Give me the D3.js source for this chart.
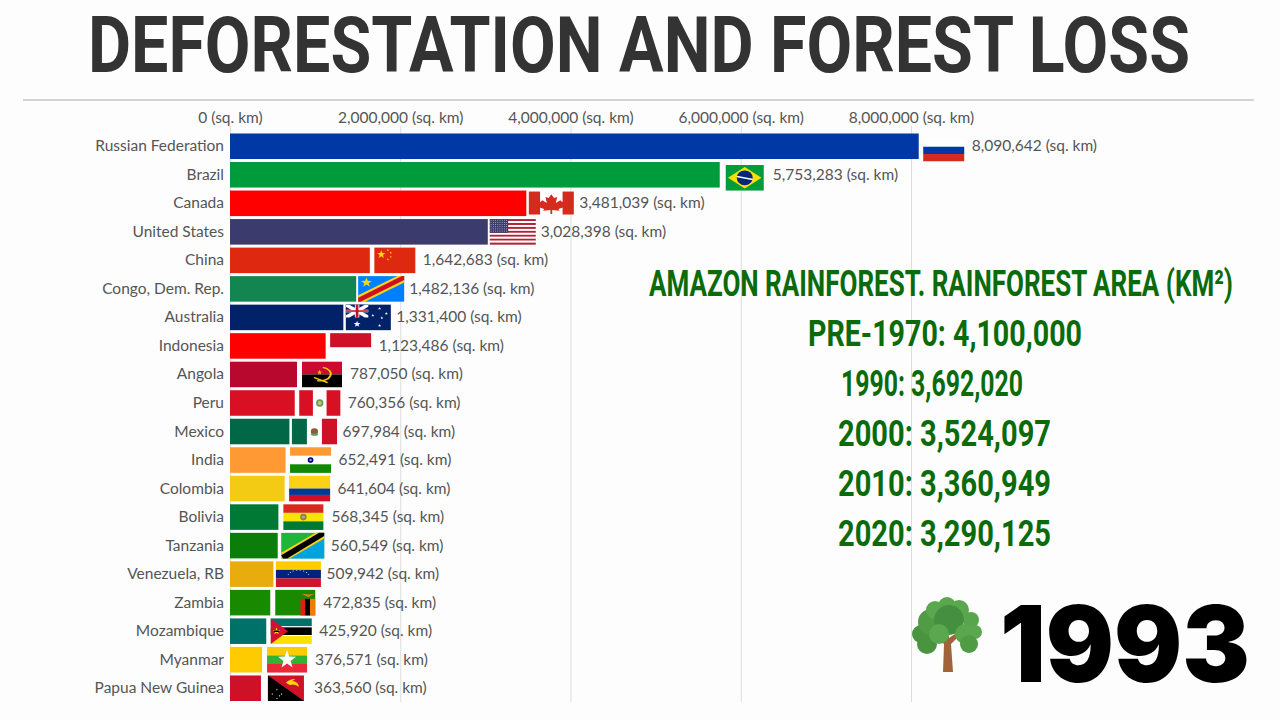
<!DOCTYPE html>
<html><head><meta charset="utf-8">
<script src="https://cdn.jsdelivr.net/npm/d3@7"></script>
<style>html,body{margin:0;padding:0;background:#fdfdfd;overflow:hidden}svg{display:block}
.lbl{font-family:"Lato",sans-serif;font-size:15.5px;fill:#555}
</style></head><body><svg id="c" width="1280" height="720"></svg>
<script>
const countries=["Russian Federation","Brazil","Canada","United States","China","Congo, Dem. Rep.","Australia","Indonesia","Angola","Peru","Mexico","India","Colombia","Bolivia","Tanzania","Venezuela, RB","Zambia","Mozambique","Myanmar","Papua New Guinea"];
const areas=[8090642,5753283,3481039,3028398,1642683,1482136,1331400,1123486,787050,760356,697984,652491,641604,568345,560549,509942,472835,425920,376571,363560];
const barColors=["#0039a6","#009b3a","#ff0000","#3c3b6e","#de2910","#138550","#012169","#ff0000","#b9082d","#d91023","#006847","#ff9933","#f4cb14","#007934","#0a7d0a","#e8ac0c","#198a00","#007168","#fecb00","#ce1126"];
const tickValues=[0,2000000,4000000,6000000,8000000];
const amazonLines=["AMAZON RAINFOREST. RAINFOREST AREA (KM²)","PRE-1970: 4,100,000","1990: 3,692,020","2000: 3,524,097","2010: 3,360,949","2020: 3,290,125"];
const titleText="DEFORESTATION AND FOREST LOSS";
const yearText="1993";

const svg=d3.select("#c");
const fmt=d3.format(",");
const x=d3.scaleLinear().domain([0,8000000]).range([230,911]);
const y=d3.scaleBand().domain(countries).range([133.5,701]).paddingInner(0.105).paddingOuter(0);

svg.append("rect").attr("width",1280).attr("height",720).attr("fill","#fdfdfd");

function fitText(sel,target){const n=sel.node();n.setAttribute("textLength",target);n.setAttribute("lengthAdjust","spacingAndGlyphs");}

fitText(svg.append("text").attr("x",88).attr("y",72).attr("font-family","Roboto").attr("font-weight",700).attr("font-size",77).attr("fill","#333").text(titleText),1102);
svg.append("line").attr("x1",23).attr("x2",1254).attr("y1",100).attr("y2",100).attr("stroke","#aaa").attr("stroke-width",1);

// axis + grid
const axis=d3.axisTop(x).tickValues(tickValues).tickSize(0).tickFormat(d=>fmt(d)+" (sq. km)");
const ax=svg.append("g").attr("transform","translate(0,123)").call(axis);
ax.select(".domain").remove();
ax.selectAll("text").attr("class","lbl").attr("dy",0).attr("y",0);
ax.selectAll(".tick").append("line").attr("y1",3).attr("y2",579).attr("stroke","#ddd");

// bars
svg.selectAll(".bar").data(countries).join("rect").attr("class","bar")
 .attr("x",x(0)).attr("y",d=>y(d)).attr("height",y.bandwidth())
 .attr("width",(d,i)=>x(areas[i])-x(0)).attr("fill",(d,i)=>barColors[i]);
svg.selectAll(".name").data(countries).join("text").attr("class","lbl name")
 .attr("x",224).attr("y",d=>y(d)+y.bandwidth()/2+5).attr("text-anchor","end").text(d=>d);
svg.selectAll(".val").data(countries).join("text").attr("class","lbl val")
 .attr("x",(d,i)=>x(areas[i])+53).attr("y",d=>y(d)+y.bandwidth()/2+5).text((d,i)=>fmt(areas[i])+" (sq. km)");

// flags: each drawn in a 100x100 unit box
const R=(g,a,b,w,h,c)=>g.append("rect").attr("x",a).attr("y",b).attr("width",w).attr("height",h).attr("fill",c);
const P=(g,pts,c)=>g.append("polygon").attr("points",pts).attr("fill",c);
const C=(g,a,b,r,c)=>g.append("ellipse").attr("cx",a).attr("cy",b).attr("rx",r).attr("ry",r).attr("fill",c);
const H=(g,cs)=>cs.forEach((c,i)=>R(g,0,i*100/cs.length,100,100/cs.length+.3,c));
const V=(g,cs)=>cs.forEach((c,i)=>R(g,i*100/cs.length,0,100/cs.length+.3,100,c));
const star=(cx,cy,ro,sx=1)=>{const p=[];for(let i=0;i<10;i++){const r=i%2?ro*.4:ro,a=-Math.PI/2+i*Math.PI/5;p.push((cx+r*Math.cos(a)*sx)+","+(cy+r*Math.sin(a)));}return p.join(" ");};
const flagDraw={
"Russian Federation":g=>H(g,["#fff","#0039a6","#d52b1e"]),
"Brazil":g=>{R(g,0,0,100,100,"#009b3a");P(g,"50,8 94,50 50,92 6,50","#fedf00");C(g,50,50,0,"#002776");g.append("ellipse").attr("cx",50).attr("cy",50).attr("rx",21).attr("ry",29).attr("fill","#002776");P(g,"29,42 71,54 71,60 29,48","#fff");},
"Canada":g=>{R(g,0,0,100,100,"#fff");R(g,0,0,25,100,"#d52b1e");R(g,75,0,25,100,"#d52b1e");P(g,"50,12 56,28 63,24 60,50 70,38 74,46 84,44 80,60 84,64 66,76 68,84 52,80 52,98 48,98 48,80 32,84 34,76 16,64 20,60 16,44 26,46 30,38 40,50 37,24 44,28","#d52b1e");},
"United States":g=>{for(let i=0;i<13;i++)R(g,0,i*100/13,100,100/13+.2,i%2?"#fff":"#b22234");R(g,0,0,40,53.8,"#3c3b6e");for(let a=0;a<8;a++)for(let b=0;b<6;b++)R(g,2+a*4.8,3+b*8.5,1.8,3,"#cfd0e0");},
"China":g=>{R(g,0,0,100,100,"#de2910");P(g,star(17,27,17,.62),"#ffde00");[[33,10],[40,20],[40,36],[33,46]].forEach(s=>P(g,star(s[0],s[1],5,.62),"#ffde00"));},
"Congo, Dem. Rep.":g=>{R(g,0,0,100,100,"#007fff");P(g,"0,75 85,0 100,0 100,25 15,100 0,100","#f7d618");P(g,"0,85 95,0 100,0 100,15 5,100 0,100","#ce1021");P(g,star(18,25,20,.62),"#f7d618");},
"Australia":g=>{R(g,0,0,100,100,"#012169");R(g,0,0,50,50,"#012169");P(g,"0,0 8,0 50,42 50,50 42,50 0,8","#fff");P(g,"50,0 42,0 0,42 0,50 8,50 50,8","#fff");R(g,20,0,10,50,"#fff");R(g,0,20,50,10,"#fff");R(g,22,0,6,50,"#c8102e");R(g,0,22,50,6,"#c8102e");P(g,star(25,76,13,.62),"#fff");[[75,15],[75,82],[60,42],[90,35],[80,52]].forEach(s=>P(g,star(s[0],s[1],6,.62),"#fff"));},
"Indonesia":g=>{R(g,0,0,100,100,"#ce1126");},
"Angola":g=>{R(g,0,0,100,50,"#cc092f");R(g,0,50,100,50,"#000");g.append("path").attr("d","M52,22 A26,26 0 1 1 38,74").attr("fill","none").attr("stroke","#ffcb00").attr("stroke-width",5);P(g,star(44,42,10,.62),"#ffcb00");g.append("line").attr("x1",30).attr("y1",62).attr("x2",64).attr("y2",82).attr("stroke","#ffcb00").attr("stroke-width",5);},
"Peru":g=>{V(g,["#d91023","#fff","#d91023"]);C(g,50,50,0,"#000");g.append("ellipse").attr("cx",50).attr("cy",50).attr("rx",9).attr("ry",15).attr("fill","#5a9e58");g.append("ellipse").attr("cx",50).attr("cy",50).attr("rx",5).attr("ry",8).attr("fill","#e2b56a");},
"Mexico":g=>{V(g,["#006847","#fff","#ce1126"]);g.append("ellipse").attr("cx",50).attr("cy",50).attr("rx",8).attr("ry",13).attr("fill","#8c5a3c");g.append("ellipse").attr("cx",50).attr("cy",62).attr("rx",8).attr("ry",5).attr("fill","#5a9e58");},
"India":g=>{H(g,["#ff9933","#fff","#138808"]);g.append("ellipse").attr("cx",50).attr("cy",50).attr("rx",7).attr("ry",11).attr("fill","#000080");g.append("ellipse").attr("cx",50).attr("cy",50).attr("rx",3).attr("ry",5).attr("fill","#9a9ad0");},
"Colombia":g=>{R(g,0,0,100,50,"#fcd116");R(g,0,50,100,25,"#003893");R(g,0,75,100,25,"#ce1126");},
"Bolivia":g=>{H(g,["#d52b1e","#f9e300","#007934"]);g.append("ellipse").attr("cx",50).attr("cy",50).attr("rx",8).attr("ry",13).attr("fill","#9a7b3a");g.append("ellipse").attr("cx",50).attr("cy",50).attr("rx",4).attr("ry",6).attr("fill","#7fb6c8");},
"Tanzania":g=>{R(g,0,0,100,100,"#1eb53a");P(g,"100,0 100,100 0,100","#00a3dd");P(g,"0,100 0,78 80,0 100,0 100,22 20,100","#fcd116");P(g,"4,100 0,88 88,0 100,0 100,12 14,100","#000");},
"Venezuela, RB":g=>{H(g,["#ffcc00","#00247d","#cf142b"]);for(let i=0;i<8;i++){const a=Math.PI*(1.12+i*.76/7);C(g,50+24*Math.cos(a),62+28*Math.sin(a),1.6,"#fff");}},
"Zambia":g=>{R(g,0,0,100,100,"#198a00");R(g,63,35,12,65,"#de2010");R(g,75,35,12,65,"#000");R(g,87,35,13,65,"#ef7d00");P(g,"66,15 82,28 98,15 82,18","#ef7d00");},
"Mozambique":g=>{R(g,0,0,100,31,"#007168");R(g,0,31,100,4,"#fff");R(g,0,35,100,30,"#000");R(g,0,65,100,4,"#fff");R(g,0,69,100,31,"#fce100");P(g,"0,0 42,50 0,100","#d21034");P(g,star(14,50,15,.62),"#fce100");R(g,8,47,12,6,"#000");},
"Myanmar":g=>{H(g,["#fecb00","#34b233","#ea2839"]);P(g,star(50,50,38,.62),"#fff");},
"Papua New Guinea":g=>{R(g,0,0,100,100,"#ce1126");P(g,"0,0 0,100 100,100","#000");[[25,55],[12,73],[38,73],[25,90],[32,80]].forEach(s=>P(g,star(s[0],s[1],4,.62),"#fff"));g.append("path").attr("d","M50,28 Q62,12 76,14 L68,22 Q84,24 86,44 Q74,34 66,36 Q58,40 50,28Z").attr("fill","#fcd116");}
};
const flagWidth={"Russian Federation":41,"Brazil":38,"Canada":45,"United States":46,"China":41,"Congo, Dem. Rep.":46,"Australia":45,"Indonesia":41,"Angola":40,"Peru":41,"Mexico":45,"India":41,"Colombia":41,"Bolivia":40,"Tanzania":43,"Venezuela, RB":45,"Zambia":40,"Mozambique":41,"Myanmar":40,"Papua New Guinea":36};
const flagHeightRatio={"Indonesia":.55,"Russian Federation":.85,"Canada":.9};
const flagShift={"Russian Federation":6,"Brazil":3};
countries.forEach((c,i)=>{
 const w=flagWidth[c],h=y.bandwidth()*(flagHeightRatio[c]||1);
 const g=svg.append("g").attr("transform",`translate(${x(areas[i])+25-w/2},${y(c)+(flagShift[c]||0)+(c==="Canada"?1:0)}) scale(${w/100},${h/100})`);
 flagDraw[c](g);
});

// Amazon block
const amazonWidths=[584,274,182,213,213,213];
const amazonY=[296,346,396,446,496,546];
const amazonX=[649,808,841,838,838,838];
amazonLines.forEach((t,i)=>{
 fitText(svg.append("text").attr("x",amazonX[i]).attr("y",amazonY[i]).attr("font-family","Roboto").attr("font-weight",700).attr("font-size",36).attr("fill","#0b6b0b").text(t),amazonWidths[i]);
});

// Year
fitText(svg.append("text").attr("x",1000).attr("y",682).attr("font-family","Inter").attr("font-weight",900).attr("font-size",106).attr("fill","#000").text(yearText),250);

// Tree
const tree=svg.append("g").attr("transform","translate(947,636)");
tree.append("path").attr("d","M-4,36 L-3,8 L-16,-2 L-14,-4 L-3,3 L-3,-12 L0,-12 L2,2 L14,-6 L16,-4 L4,8 L6,36 Z").attr("fill","#a0643a");
[[-20,8,10,"#4a9440"],[-26,-2,9,"#4a9440"],[-16,-14,13,"#4f9c45"],[-12,-26,9,"#5aa84e"],[0,-30,9,"#5aa84e"],[12,-26,10,"#5aa84e"],[24,-16,8,"#58a64c"],[2,-16,15,"#449040"],[18,-2,10,"#5aa84e"],[28,-4,7,"#5aa84e"],[22,8,9,"#4f9c45"],[-8,-2,10,"#5aa84e"]].forEach(d=>{
 tree.append("circle").attr("cx",d[0]).attr("cy",d[1]).attr("r",d[2]).attr("fill",d[3]);
});
</script></body></html>
